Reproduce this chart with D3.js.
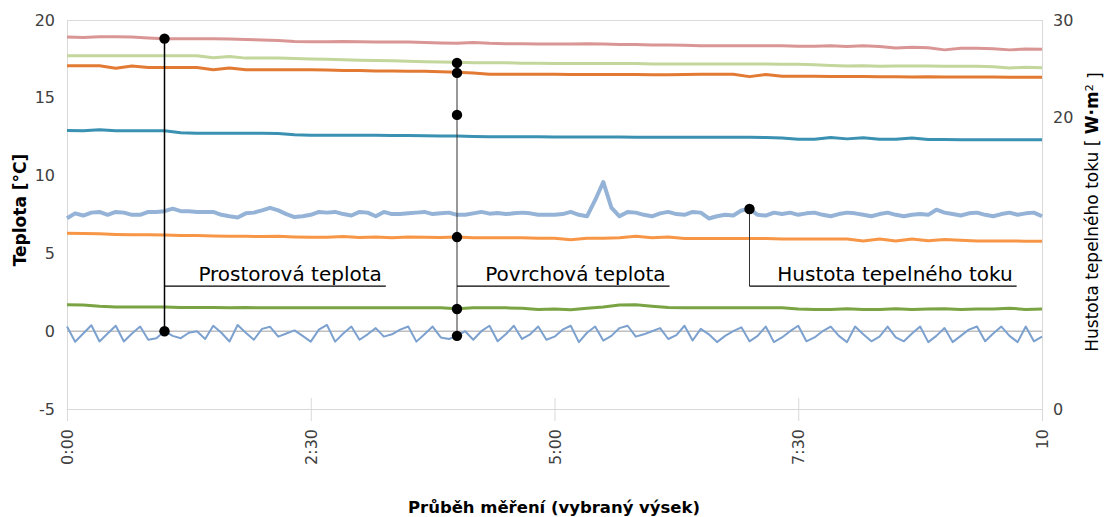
<!DOCTYPE html>
<html>
<head>
<meta charset="utf-8">
<script src="https://cdn.jsdelivr.net/npm/d3@7"></script>
<style>
  html, body { margin: 0; padding: 0; background: #fff; }
  svg { display: block; font-family: 'DejaVu Sans', Verdana, sans-serif; }
</style>
</head>
<body>
<div id="chart"></div>
<script>
'use strict';

// axes
const xTicks = [0, 2.5, 5, 7.5, 10];
const xTickLabels = ['0:00', '2:30', '5:00', '7:30', '10'];
const yLeftTicks = [-5, 0, 5, 10, 15, 20];
const yRightTicks = [0, 20, 30];

// temperatures, one value every 10 min (°C)
const roomA = [18.9, 18.88, 18.92, 18.92, 18.9, 18.85, 18.8, 18.8, 18.8, 18.8, 18.78, 18.75, 18.72, 18.68, 18.62, 18.6, 18.6, 18.62, 18.6, 18.58,
  18.58, 18.58, 18.55, 18.52, 18.5, 18.55, 18.5, 18.48, 18.48, 18.45, 18.45, 18.45, 18.48, 18.45, 18.42, 18.42, 18.4, 18.4, 18.38, 18.35,
  18.35, 18.35, 18.35, 18.35, 18.35, 18.32, 18.32, 18.35, 18.3, 18.35, 18.3, 18.2, 18.25, 18.22, 18.08, 18.18, 18.18, 18.16, 18.08, 18.14, 18.12];
const surfaceA = [17.7, 17.7, 17.7, 17.7, 17.7, 17.7, 17.7, 17.7, 17.7, 17.58, 17.66, 17.55, 17.55, 17.55, 17.52, 17.5, 17.48, 17.45, 17.42, 17.4,
  17.38, 17.35, 17.32, 17.3, 17.28, 17.25, 17.25, 17.25, 17.22, 17.22, 17.2, 17.2, 17.2, 17.2, 17.2, 17.2, 17.18, 17.18, 17.17, 17.17,
  17.17, 17.17, 17.17, 17.17, 17.15, 17.15, 17.12, 17.08, 17.05, 17.06, 17.02, 17.04, 17.04, 17.04, 17.03, 17.03, 17.03, 17.0, 16.92, 16.96, 16.93];
const surfaceB = [17.06, 17.06, 17.06, 16.9, 17.05, 16.95, 16.95, 16.95, 16.95, 16.8, 16.92, 16.8, 16.8, 16.8, 16.8, 16.8, 16.78, 16.75, 16.75, 16.72,
  16.72, 16.7, 16.7, 16.68, 16.65, 16.6, 16.52, 16.52, 16.52, 16.52, 16.52, 16.5, 16.5, 16.5, 16.5, 16.5, 16.48, 16.48, 16.5, 16.52,
  16.52, 16.52, 16.36, 16.5, 16.38, 16.38, 16.38, 16.37, 16.37, 16.37, 16.36, 16.35, 16.34, 16.36, 16.34, 16.34, 16.33, 16.33, 16.32, 16.32, 16.32];
const surfaceC = [12.9, 12.88, 12.95, 12.88, 12.88, 12.88, 12.88, 12.75, 12.72, 12.72, 12.72, 12.72, 12.72, 12.7, 12.62, 12.6, 12.6, 12.6, 12.6, 12.6,
  12.58, 12.58, 12.56, 12.55, 12.55, 12.52, 12.5, 12.5, 12.5, 12.5, 12.48, 12.48, 12.48, 12.48, 12.48, 12.47, 12.47, 12.47, 12.46, 12.46,
  12.46, 12.46, 12.46, 12.45, 12.42, 12.33, 12.34, 12.45, 12.36, 12.44, 12.34, 12.34, 12.42, 12.32, 12.32, 12.31, 12.31, 12.31, 12.31, 12.31, 12.31];
const surfaceD = [6.3, 6.28, 6.26, 6.22, 6.2, 6.2, 6.18, 6.15, 6.15, 6.12, 6.1, 6.1, 6.08, 6.1, 6.06, 6.04, 6.03, 6.08, 6.02, 6.05,
  6.0, 6.05, 6.04, 6.02, 6.05, 6.0, 6.0, 6.0, 6.0, 5.98, 5.97, 5.88, 5.97, 5.98, 6.0, 6.1, 6.0, 6.05, 5.95, 5.95,
  5.95, 5.95, 5.96, 5.95, 5.93, 5.93, 5.93, 5.92, 5.92, 5.8, 5.92, 5.8, 5.92, 5.82, 5.9, 5.85, 5.8, 5.8, 5.8, 5.78, 5.78];
const roomB = [1.7, 1.68, 1.6, 1.55, 1.55, 1.55, 1.55, 1.53, 1.53, 1.52, 1.5, 1.52, 1.5, 1.5, 1.5, 1.5, 1.5, 1.5, 1.5, 1.5,
  1.5, 1.5, 1.5, 1.5, 1.45, 1.5, 1.5, 1.5, 1.48, 1.4, 1.42, 1.38, 1.48, 1.55, 1.68, 1.7, 1.6, 1.52, 1.5, 1.5,
  1.5, 1.5, 1.5, 1.5, 1.5, 1.42, 1.4, 1.4, 1.44, 1.4, 1.4, 1.45, 1.4, 1.42, 1.45, 1.4, 1.42, 1.42, 1.48, 1.4, 1.42];

// one value every 5 min
const outdoor = [0.3, -0.68, -0.15, 0.38, -0.66, -0.15, 0.35, -0.66, -0.15, 0.3, -0.55, -0.45, 0.0, -0.3, -0.45, -0.1, 0.0, -0.5, 0.35, -0.1,
  -0.66, 0.4, -0.1, -0.55, 0.15, 0.28, -0.35, -0.15, 0.05, -0.3, -0.67, 0.1, 0.4, -0.67, -0.15, 0.3, -0.55, -0.2, 0.2, -0.35,
  -0.2, 0.1, 0.3, -0.67, -0.2, 0.3, -0.4, -0.5, -0.3, 0.0, -0.55, 0.0, 0.35, -0.65, -0.2, 0.35, -0.5, -0.2, 0.3, -0.55,
  -0.35, 0.1, 0.35, -0.7, -0.1, 0.3, -0.6, -0.3, 0.2, 0.35, -0.35, -0.2, 0.0, 0.2, -0.5, -0.25, 0.35, -0.6, 0.15, -0.2,
  -0.7, -0.3, 0.0, 0.25, -0.65, -0.3, 0.3, -0.7, -0.4, 0.0, 0.35, -0.65, -0.4, 0.0, 0.3, -0.3, -0.7, 0.3, -0.2, -0.65,
  -0.35, 0.3, -0.4, -0.65, -0.15, 0.3, -0.7, -0.3, 0.2, -0.7, -0.3, 0.1, 0.3, -0.65, -0.15, 0.3, -0.3, -0.7, 0.3, -0.65, -0.35];
// heat flux density (W/m2), right axis
const heatFlux = [13.06, 13.4, 13.25, 13.45, 13.5, 13.3, 13.5, 13.45, 13.3, 13.3, 13.5, 13.5, 13.55, 13.72, 13.55, 13.55, 13.5, 13.5, 13.5, 13.3,
  13.2, 13.12, 13.4, 13.45, 13.6, 13.78, 13.6, 13.35, 13.15, 13.2, 13.3, 13.5, 13.45, 13.5, 13.35, 13.25, 13.5, 13.45, 13.2, 13.5,
  13.35, 13.35, 13.4, 13.45, 13.5, 13.35, 13.4, 13.45, 13.3, 13.3, 13.4, 13.5, 13.38, 13.42, 13.35, 13.4, 13.45, 13.4, 13.3, 13.3,
  13.3, 13.35, 13.5, 13.3, 13.2, 14.3, 15.55, 13.8, 13.2, 13.5, 13.45, 13.3, 13.2, 13.4, 13.5, 13.35, 13.3, 13.5, 13.45, 13.05,
  13.2, 13.3, 13.25, 13.6, 13.7, 13.3, 13.25, 13.45, 13.35, 13.45, 13.3, 13.4, 13.45, 13.3, 13.2, 13.35, 13.45, 13.4, 13.3, 13.2,
  13.35, 13.45, 13.3, 13.2, 13.3, 13.35, 13.3, 13.65, 13.45, 13.35, 13.25, 13.4, 13.45, 13.3, 13.2, 13.35, 13.45, 13.3, 13.4, 13.45, 13.2];

// callouts
const calloutLabels = ['Prostorová teplota', 'Povrchová teplota', 'Hustota tepelného toku'];
const calloutTimes = [1.0, 4.0, 7.0];
const calloutEnds = [3.27, 6.18, 9.74];
const calloutLevel = 2.9;
const roomDots = [18.8, 0];
const surfaceDots = [17.24, 16.6, 13.9, 6.05, 1.43, -0.3];
const fluxDots = [13.7];

const W = 1105, H = 517;
const svg = d3.select('#chart').append('svg').attr('width', W).attr('height', H);

const x = d3.scaleLinear().domain([0, 10]).range([67, 1042]);
const yL = d3.scaleLinear().domain([-5, 20]).range([409, 20]);
const yR = d3.scaleLinear().domain([0, 20, 30]).range([409, 117, 20]);

// frame
const grid = svg.append('g').attr('stroke', '#d9d9d9').attr('stroke-width', 1).attr('fill', 'none');
grid.append('line').attr('x1', x(0)).attr('x2', x(10)).attr('y1', yL(20) + .5).attr('y2', yL(20) + .5);
grid.append('line').attr('x1', x(0)).attr('x2', x(10)).attr('y1', yL(-5) + .5).attr('y2', yL(-5) + .5);
grid.append('line').attr('x1', x(0) + .5).attr('x2', x(0) + .5).attr('y1', yL(20)).attr('y2', yL(-5) + 12);
grid.append('line').attr('x1', x(10) + .5).attr('x2', x(10) + .5).attr('y1', yL(20)).attr('y2', yL(-5) + 12);
grid.selectAll('.tick')
  .data(xTicks.slice(1, -1))
  .enter()
  .append('line')
  .attr('x1', (d) => x(d) + .5).attr('x2', (d) => x(d) + .5)
  .attr('y1', yL(-5) - 11).attr('y2', yL(-5) + 12);
svg.append('line')
  .attr('x1', x(0)).attr('x2', x(10)).attr('y1', yL(0)).attr('y2', yL(0))
  .attr('stroke', '#bfbfbf').attr('stroke-width', 1.5);

// axes
const $yLeft = svg.append('g').attr('transform', `translate(${x(0)},0)`)
  .call(d3.axisLeft(yL).tickValues(yLeftTicks).tickFormat(String).tickSize(0).tickPadding(12));
const $yRight = svg.append('g').attr('transform', `translate(${x(10)},0)`)
  .call(d3.axisRight(yR).tickValues(yRightTicks).tickFormat(String).tickSize(0).tickPadding(11));
const $xAxis = svg.append('g').attr('transform', `translate(0,${yL(-5)})`)
  .call(d3.axisBottom(x).tickValues(xTicks).tickFormat((d, i) => xTickLabels[i]).tickSize(0));
[$yLeft, $yRight, $xAxis].forEach(($a) => {
  $a.select('.domain').remove();
  $a.selectAll('text')
    .attr('fill', '#404040')
    .style('font-family', "'DejaVu Sans', Verdana, sans-serif")
    .style('font-size', '16px');
});
$xAxis.selectAll('text')
  .attr('transform', 'rotate(-90)')
  .attr('x', -20)
  .attr('y', 0)
  .attr('dy', '0.35em')
  .style('text-anchor', 'end');

// series
const series = [
  { values: outdoor, color: '#7ca1cf', width: 2, y: yL },
  { values: roomB, color: '#7aa343', width: 3, y: yL },
  { values: surfaceD, color: '#f79646', width: 3, y: yL },
  { values: heatFlux, color: '#95b3d7', width: 4, y: yR },
  { values: surfaceC, color: '#3a91b2', width: 3, y: yL },
  { values: surfaceB, color: '#e37a33', width: 3, y: yL },
  { values: surfaceA, color: '#c3d69b', width: 3, y: yL },
  { values: roomA, color: '#d99694', width: 3, y: yL }
];
series.forEach((s) => {
  const n = s.values.length;
  const line = d3.line()
    .x((d, i) => x(i * 10 / (n - 1)))
    .y((d) => s.y(d));
  svg.append('path')
    .attr('d', line(s.values))
    .attr('fill', 'none')
    .attr('stroke', s.color)
    .attr('stroke-width', s.width)
    .attr('stroke-linejoin', 'round');
});

// callouts
const $call = svg.append('g');
const levelY = yL(calloutLevel);
// vertical leaders
$call.append('line')
  .attr('x1', x(calloutTimes[0])).attr('x2', x(calloutTimes[0]))
  .attr('y1', yL(d3.max(roomDots))).attr('y2', yL(d3.min(roomDots)))
  .attr('stroke', '#000').attr('stroke-width', 1.5);
$call.append('line')
  .attr('x1', x(calloutTimes[1])).attr('x2', x(calloutTimes[1]))
  .attr('y1', yL(d3.max(surfaceDots))).attr('y2', yL(d3.min(surfaceDots)))
  .attr('stroke', '#333').attr('stroke-width', 1);
$call.append('line')
  .attr('x1', x(calloutTimes[2])).attr('x2', x(calloutTimes[2]))
  .attr('y1', yR(fluxDots[0])).attr('y2', levelY)
  .attr('stroke', '#333').attr('stroke-width', 1);
// label underlines
$call.selectAll('.under')
  .data(calloutTimes)
  .enter()
  .append('line')
  .attr('class', 'under')
  .attr('x1', (d) => x(d)).attr('x2', (d, i) => x(calloutEnds[i]))
  .attr('y1', levelY).attr('y2', levelY)
  .attr('stroke', '#000').attr('stroke-width', 1.2);
$call.selectAll('.lbl')
  .data(calloutLabels)
  .enter()
  .append('text')
  .attr('class', 'lbl')
  .attr('x', (d, i) => x(calloutEnds[i]) - 4)
  .attr('y', levelY - 5)
  .attr('text-anchor', 'end')
  .style('font-size', '20px')
  .attr('fill', '#000')
  .text((d) => d);
// dots
const dots = roomDots.map((v) => [x(calloutTimes[0]), yL(v)])
  .concat(surfaceDots.map((v) => [x(calloutTimes[1]), yL(v)]))
  .concat(fluxDots.map((v) => [x(calloutTimes[2]), yR(v)]));
$call.selectAll('circle')
  .data(dots)
  .enter()
  .append('circle')
  .attr('cx', (d) => d[0])
  .attr('cy', (d) => d[1])
  .attr('r', 5.2)
  .attr('fill', '#000');

// titles
svg.append('text')
  .attr('transform', 'translate(20,210) rotate(-90)')
  .attr('text-anchor', 'middle')
  .attr('dy', '0.35em')
  .style('font-size', '17px')
  .style('font-weight', 'bold')
  .text('Teplota [°C]');

const $rt = svg.append('text')
  .attr('transform', 'translate(1092,212) rotate(-90)')
  .attr('text-anchor', 'middle')
  .attr('dy', '0.35em')
  .style('font-size', '17px');
$rt.append('tspan').text('Hustota tepelného toku [ ');
$rt.append('tspan').style('font-weight', 'bold').text('W·m');
$rt.append('tspan').attr('dy', '-0.45em').style('font-size', '11px').text('2');
$rt.append('tspan').attr('dy', '0.45em').text(' ]');

svg.append('text')
  .attr('x', 554)
  .attr('y', 513)
  .attr('text-anchor', 'middle')
  .attr('textLength', 292)
  .attr('lengthAdjust', 'spacingAndGlyphs')
  .style('font-family', "'DejaVu Sans Condensed', 'DejaVu Sans', sans-serif")
  .style('font-size', '16px')
  .style('font-weight', 'bold')
  .text('Průběh měření (vybraný výsek)');
</script>
</body>
</html>
